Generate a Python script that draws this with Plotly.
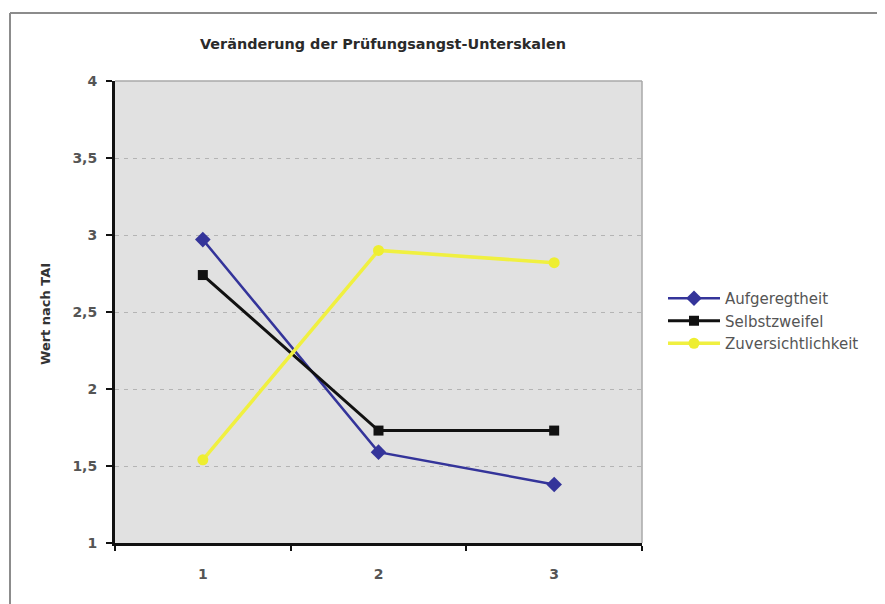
import plotly.graph_objects as go

categories = ["1", "2", "3"]
aufgeregtheit = [2.97, 1.59, 1.38]
selbstzweifel = [2.74, 1.73, 1.73]
zuversichtlichkeit = [1.54, 2.90, 2.82]
series_names = ["Aufgeregtheit", "Selbstzweifel", "Zuversichtlichkeit"]
y_ticks = [1, 1.5, 2, 2.5, 3, 3.5, 4]

# page body has an 8px margin; work in figure coordinates
OFF = 8
W, H = 885 - OFF, 604 - OFF
L = 115 - OFF
T = 81 - OFF
R = W - (642 - OFF)
B = H - (543 - OFF)
pw = W - L - R
ph = H - T - B

def px(x):
    return (x - OFF - L) / pw

def py(y):
    return (H - B - (y - OFF)) / ph

FONT = "DejaVu Sans, Verdana, sans-serif"
TICKFONT = dict(size=14, color="#555555", family="DejaVu Sans Bold, DejaVu Sans, sans-serif", weight="bold")

fig = go.Figure()
fig.add_trace(go.Scatter(x=categories, y=aufgeregtheit, name=series_names[0], mode="lines+markers",
                         line=dict(color="#34349a", width=2.5),
                         marker=dict(symbol="diamond", size=12, color="#34349a")))
fig.add_trace(go.Scatter(x=categories, y=selbstzweifel, name=series_names[1], mode="lines+markers",
                         line=dict(color="#111111", width=3),
                         marker=dict(symbol="square", size=10, color="#111111")))
fig.add_trace(go.Scatter(x=categories, y=zuversichtlichkeit, name=series_names[2], mode="lines+markers",
                         line=dict(color="#f0f040", width=3.5),
                         marker=dict(symbol="circle", size=11, color="#eeee30")))

fig.update_layout(
    width=W, height=H,
    margin=dict(l=L, r=R, t=T, b=B),
    paper_bgcolor="white",
    plot_bgcolor="#e1e1e1",
    separators=",.",
    font=dict(family=FONT, color="#333333"),
    showlegend=True,
    legend=dict(x=px(663), xanchor="left", y=py(321), yanchor="middle",
                font=dict(size=15, color="#555555", family=FONT), bgcolor="rgba(0,0,0,0)",
                tracegroupgap=0, itemwidth=52),
    xaxis=dict(type="category", range=[-0.5, 2.5], showgrid=False, zeroline=False,
               showline=True, linecolor="#111111", linewidth=3,
               ticks="outside", tickson="boundaries", ticklen=5, tickwidth=2, tickcolor="#111111",
               ticklabelstandoff=16,
               tickfont=TICKFONT, fixedrange=True),
    yaxis=dict(range=[1, 4], tickvals=y_ticks, showgrid=True, gridcolor="#b4b4b4",
               griddash="4px,5px", gridwidth=1, zeroline=False,
               showline=True, linecolor="#111111", linewidth=3,
               ticks="outside", ticklen=6, tickwidth=2, tickcolor="#111111",
               ticklabelstandoff=6,
               tickfont=TICKFONT, fixedrange=True),
    shapes=[
        dict(type="line", xref="paper", yref="paper", x0=0, x1=1, y0=1, y1=1,
             line=dict(color="#a8a8a8", width=1.5)),
        dict(type="line", xref="paper", yref="paper", x0=1, x1=1, y0=0, y1=1,
             line=dict(color="#a8a8a8", width=1.5)),
        dict(type="line", xref="paper", yref="paper", x0=px(10), x1=px(900), y0=py(13), y1=py(13),
             line=dict(color="#8c8c8c", width=2)),
        dict(type="line", xref="paper", yref="paper", x0=px(10), x1=px(10), y0=py(620), y1=py(13),
             line=dict(color="#8c8c8c", width=2)),
    ],
    annotations=[
        dict(text="<b>Veränderung der Prüfungsangst-Unterskalen</b>", xref="paper", yref="paper",
             x=px(383), y=py(44), showarrow=False, font=dict(size=14.4, color="#2a2a2a", family=FONT),
             xanchor="center", yanchor="middle"),
        dict(text="<b>Wert nach TAI</b>", xref="paper", yref="paper", textangle=-90,
             x=px(45), y=py(314), showarrow=False, font=dict(size=13, color="#333333", family=FONT),
             xanchor="center", yanchor="middle"),
    ],
)

fig.write_html("out.html")
